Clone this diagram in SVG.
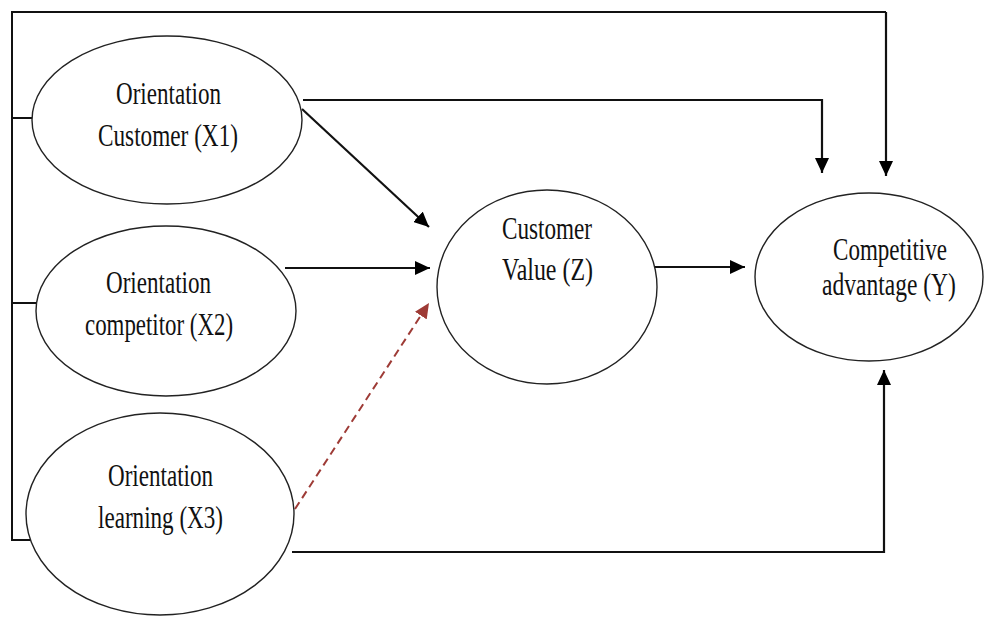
<svg xmlns="http://www.w3.org/2000/svg" width="984" height="617" viewBox="0 0 984 617">
<defs>
<marker id="ah" markerUnits="userSpaceOnUse" markerWidth="16" markerHeight="14" refX="15" refY="7" orient="auto"><path d="M0,0 L15,7 L0,14 Z" fill="#000"/></marker>
<marker id="ahr" markerUnits="userSpaceOnUse" markerWidth="16" markerHeight="14" refX="15" refY="7" orient="auto"><path d="M0,0 L15,7 L0,14 Z" fill="#9e3b36"/></marker>
<style>
.node{fill:#fff;stroke:#222;stroke-width:1.4}
.lbl{font-family:"Liberation Serif","Times New Roman",serif;font-size:32px;fill:#111;text-anchor:middle}
.ln{fill:none;stroke:#111;stroke-width:2}
.arr{fill:none;stroke:#111;stroke-width:2.2;marker-end:url(#ah)}
.dash{fill:none;stroke:#9e3b36;stroke-width:2;stroke-dasharray:8 5;marker-end:url(#ahr)}
</style>
</defs>
<rect width="984" height="617" fill="#fff"/>
<g id="connectors">
<polyline class="ln" points="33,118 12,118 12,12 886,12"/>
<line class="ln" x1="12" y1="303" x2="37" y2="303"/>
<polyline class="ln" points="12,118 12,540 33,540"/>
<line class="arr" x1="886" y1="12" x2="886" y2="176"/>
<polyline class="arr" points="303,100 822,100 822,173"/>
<line class="arr" x1="302" y1="109" x2="429" y2="227"/>
<line class="arr" x1="285" y1="268" x2="430" y2="268"/>
<line class="dash" x1="295" y1="509" x2="429" y2="303"/>
<line class="arr" x1="648" y1="267" x2="745" y2="267"/>
<polyline class="arr" points="292,552 884,552 884,370"/>
</g>
<g id="x1"><ellipse class="node" cx="167" cy="120" rx="135" ry="84"/>
<text class="lbl" x="168.5" y="104" textLength="105" lengthAdjust="spacingAndGlyphs">Orientation</text>
<text class="lbl" x="168" y="146" textLength="140" lengthAdjust="spacingAndGlyphs">Customer (X1)</text></g>
<g id="x2"><ellipse class="node" cx="166" cy="311" rx="130" ry="85"/>
<text class="lbl" x="158.5" y="293" textLength="105" lengthAdjust="spacingAndGlyphs">Orientation</text>
<text class="lbl" x="159" y="335" textLength="148" lengthAdjust="spacingAndGlyphs">competitor (X2)</text></g>
<g id="x3"><ellipse class="node" cx="160" cy="514" rx="134" ry="101"/>
<text class="lbl" x="160.5" y="486" textLength="105" lengthAdjust="spacingAndGlyphs">Orientation</text>
<text class="lbl" x="160.5" y="528" textLength="125" lengthAdjust="spacingAndGlyphs">learning (X3)</text></g>
<g id="z"><ellipse class="node" cx="547" cy="287" rx="110" ry="97"/>
<text class="lbl" x="547" y="239" textLength="90" lengthAdjust="spacingAndGlyphs">Customer</text>
<text class="lbl" x="547.5" y="280" textLength="91" lengthAdjust="spacingAndGlyphs">Value (Z)</text></g>
<g id="y"><ellipse class="node" cx="869" cy="277" rx="114" ry="84"/>
<text class="lbl" transform="translate(890 260) scale(0.72 1)">Competitive</text>
<text class="lbl" transform="translate(889 295) scale(0.735 1)">advantage (Y)</text></g>
</svg>
